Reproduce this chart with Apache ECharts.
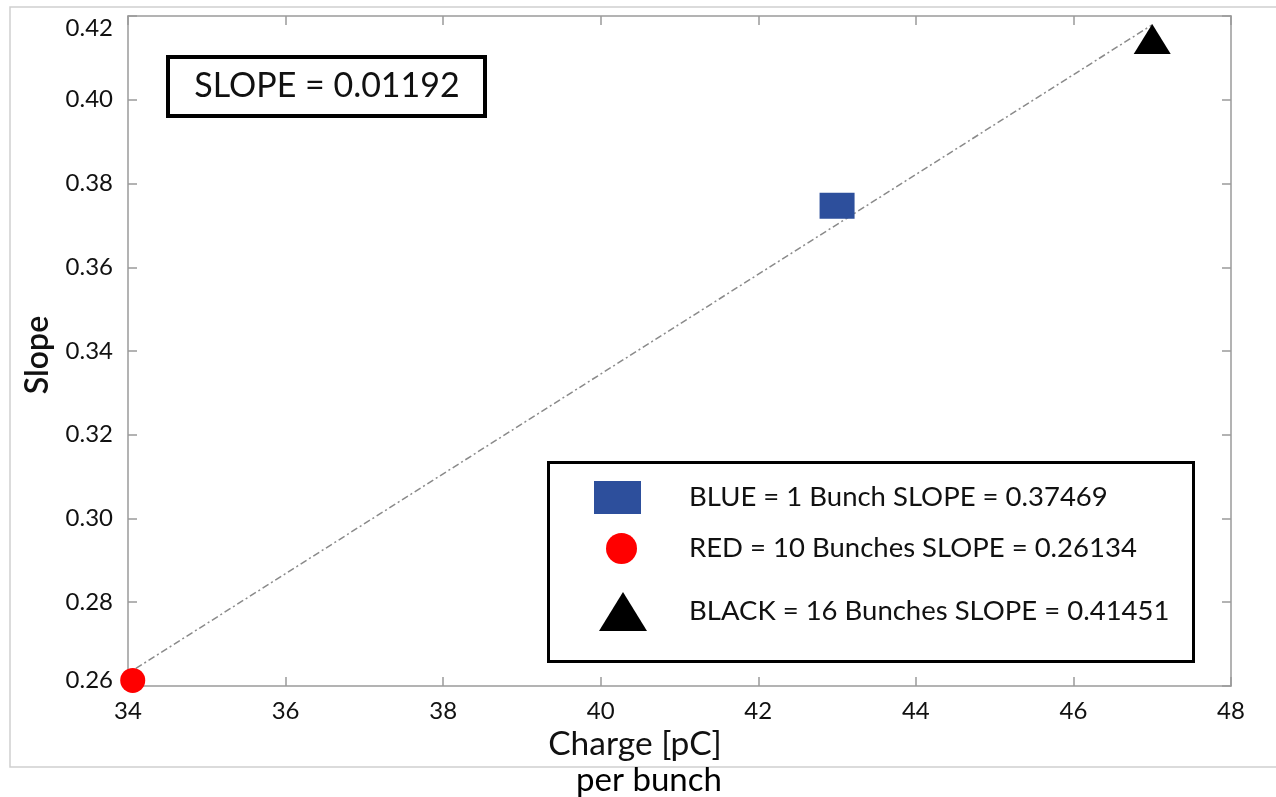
<!DOCTYPE html>
<html>
<head>
<meta charset="utf-8">
<script src="https://cdn.jsdelivr.net/npm/echarts@6/dist/echarts.min.js"></script>
<style>
  html, body { margin: 0; padding: 0; background: #ffffff; }
  #chart { width: 1276px; height: 797px; }
</style>
</head>
<body>
<div id="chart"></div>
<script>
// Bunch-charge scan: fitted slope versus charge per bunch
const FONT = 'Lato, "Open Sans", "Noto Sans", sans-serif';

const xTicks = [34, 36, 38, 40, 42, 44, 46, 48];
const yTicks = [0.26, 0.28, 0.30, 0.32, 0.34, 0.36, 0.38, 0.40, 0.42];

const seriesNames = [
  'BLUE = 1 Bunch SLOPE = 0.37469',
  'RED = 10 Bunches SLOPE = 0.26134',
  'BLACK = 16 Bunches SLOPE = 0.41451'
];
const seriesColors = ['#2d4f9c', '#ff0000', '#000000'];
const seriesSymbols = ['rect', 'circle', 'triangle'];
const chargePerBunch = [43.0, 34.06, 47.0];
const slopeValues = [0.37469, 0.26134, 0.41451];

// linear fit through the three runs
const fitX = [34.1, 47.0];
const fitY = [0.2642, 0.4179];
const fitLabel = 'SLOPE = 0.01192';

const xTitle = 'Charge [pC]';
const xSubTitle = 'per bunch';
const yTitle = 'Slope';

const axisGray = '#9a9a9a';
const markerSizes = [[35, 26], 25, [37, 30]];

// key entries: icon box (left, top, width, height) and gap to the text
const keyLayout = [
  { left: 594, top: 481, w: 47, h: 33, gap: 43 },
  { left: 606, top: 533, w: 31, h: 31, gap: 47 },
  { left: 599, top: 592, w: 48, h: 39, gap: 37 }
];

const chart = echarts.init(document.getElementById('chart'), null, { renderer: 'canvas' });

const baseAxis = {
  type: 'value',
  axisLine: { show: true, lineStyle: { color: axisGray, width: 1.5 } },
  axisTick: { show: true, inside: true, length: 9, lineStyle: { color: axisGray, width: 1.5 } },
  splitLine: { show: false }
};

const scatterSeries = seriesNames.map((name, i) => ({
  name: name,
  type: 'scatter',
  symbol: seriesSymbols[i],
  symbolSize: markerSizes[i],
  itemStyle: { color: seriesColors[i], opacity: 1 },
  z: 5,
  data: [[chargePerBunch[i], slopeValues[i]]]
}));

const legends = seriesNames.map((name, i) => ({
  data: [{ name: name, icon: seriesSymbols[i] }],
  orient: 'vertical',
  left: keyLayout[i].left,
  top: keyLayout[i].top,
  padding: 0,
  itemWidth: keyLayout[i].w,
  itemHeight: keyLayout[i].h,
  selectedMode: false,
  z: 12,
  textStyle: { fontFamily: FONT, fontSize: 27.5, color: '#111', padding: [0, 0, 0, keyLayout[i].gap] }
}));

const yMin = yTicks[0];
const yMax = yTicks[yTicks.length - 1];

const option = {
  backgroundColor: '#ffffff',
  animation: false,
  grid: { left: 128, right: 45, top: 16, bottom: 111 },
  xAxis: [
    Object.assign({}, baseAxis, {
      position: 'bottom',
      min: xTicks[0], max: xTicks[xTicks.length - 1], interval: 2,
      axisLabel: { show: true, margin: 13, color: '#111', fontFamily: FONT, fontSize: 24 }
    }),
    Object.assign({}, baseAxis, {
      position: 'top',
      min: xTicks[0], max: xTicks[xTicks.length - 1], interval: 2,
      axisLabel: { show: false }
    })
  ],
  yAxis: [
    Object.assign({}, baseAxis, {
      position: 'left',
      min: yMin, max: yMax, interval: 0.02,
      axisLabel: {
        show: true, margin: 15, color: '#111', fontFamily: FONT, fontSize: 24,
        formatter: v => (Math.abs(v - yMin) < 1e-9 ? '{lo|' + v.toFixed(2) + '}' : v.toFixed(2)),
        rich: { lo: { fontFamily: FONT, fontSize: 24, color: '#111', padding: [0, 0, 12, 0] } },
        verticalAlignMaxLabel: 'top'
      }
    }),
    Object.assign({}, baseAxis, {
      position: 'right',
      min: yMin, max: yMax, interval: 0.02,
      axisLabel: { show: false }
    })
  ],
  legend: legends,
  graphic: [
    {
      type: 'rect', z: -10, silent: true,
      shape: { x: 10, y: 7, width: 1300, height: 760 },
      style: { fill: 'none', stroke: '#cfcfcf', lineWidth: 1.5 }
    },
    {
      type: 'rect', z: 10, silent: true,
      shape: { x: 168, y: 57, width: 317, height: 59 },
      style: { fill: '#ffffff', stroke: '#000', lineWidth: 4 }
    },
    {
      type: 'text', z: 11, silent: true,
      x: 327, y: 86,
      style: { text: fitLabel, fontFamily: FONT, fontSize: 34, fill: '#111', align: 'center', verticalAlign: 'middle' }
    },
    {
      type: 'rect', z: 1, silent: true,
      shape: { x: 548.5, y: 462.5, width: 645, height: 199 },
      style: { fill: '#ffffff', stroke: '#000', lineWidth: 3 }
    },
    {
      type: 'text', silent: true,
      x: 635, y: 744,
      style: { text: xTitle, fontFamily: FONT, fontSize: 33.5, fill: '#111', align: 'center', verticalAlign: 'middle' }
    },
    {
      type: 'text', silent: true,
      x: 649, y: 780,
      style: { text: xSubTitle, fontFamily: FONT, fontSize: 33, fill: '#000', align: 'center', verticalAlign: 'middle' }
    },
    {
      type: 'text', silent: true,
      x: 38, y: 355, rotation: Math.PI / 2,
      style: { text: yTitle, fontFamily: FONT, fontSize: 32, fontWeight: 600, fill: '#111', align: 'center', verticalAlign: 'middle' }
    }
  ],
  series: [
    {
      name: 'fit',
      type: 'line',
      symbol: 'none',
      silent: true,
      z: 2,
      lineStyle: { color: '#8a8a8a', width: 1.5, type: [7, 3, 2, 3] },
      data: fitX.map((x, i) => [x, fitY[i]])
    }
  ].concat(scatterSeries)
};

chart.setOption(option);
</script>
</body>
</html>
